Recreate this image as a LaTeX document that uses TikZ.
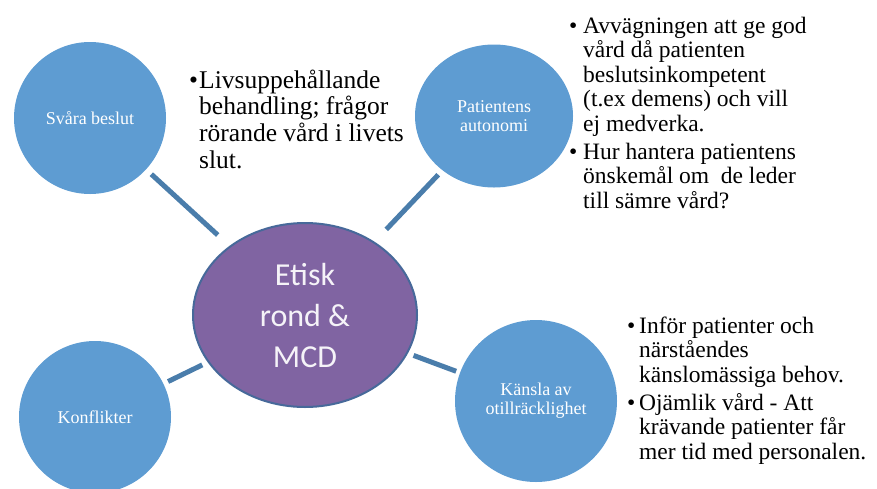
\documentclass[tikz,border=0pt]{standalone}
\usepackage{fontspec}
\setmainfont{Liberation Serif}
\newfontfamily\calfont{Carlito}
\usetikzlibrary{shapes.geometric}

\definecolor{bubbla}{HTML}{5E9CD2}
\definecolor{linje}{HTML}{4A7DAB}
\definecolor{lila}{HTML}{8064A2}
\definecolor{kant}{HTML}{47699A}

\newcommand\punkt[2][10pt]{\hangindent=#1\hangafter=1\noindent\makebox[#1][l]{\textbullet}#2\par}

\begin{document}
\begin{tikzpicture}[x=1pt,y=-1pt,
    bubble/.style={circle,fill=bubbla,inner sep=0pt,text=white,align=center,
      font=\rmfamily\fontsize{18}{19}\selectfont},
    arm/.style={draw=linje,line width=5pt},
    punkter/.style={anchor=base west,inner sep=0pt,text width=300pt,align=flush left}]
        \useasboundingbox (0,0) rectangle (877,488);

        \node[ellipse,draw=kant,line width=2pt,fill=lila,minimum width=224pt,minimum height=184pt,
          inner sep=0pt,align=center,text=white!92!lila,font=\calfont\fontsize{32}{41}\selectfont]
          (etisk) at (305,315) {Etisk\\rond \&\\MCD};

        \node[bubble,minimum size=152pt] (svara) at (90,118) {Svåra beslut};
        \node[bubble,ellipse,minimum width=158pt,minimum height=143pt] (patient) at (494,116) {Patientens\\autonomi};
        \node[bubble,minimum size=152pt] (konflikt) at (95,417) {Konflikter};
        \node[bubble,minimum size=162pt] (kansla) at (536,401) {Känsla av\\otillräcklighet};

        \draw[arm,shorten <=7pt,shorten >=16pt] (svara) -- (etisk);
        \draw[arm,shorten <=6pt,shorten >=17pt] (patient) -- (etisk);
        \draw[arm,shorten <=5pt,shorten >=6pt] (konflikt) -- (etisk);
        \draw[arm,shorten <=4pt,shorten >=6pt] (kansla) -- (etisk);

        \node[punkter,font=\fontsize{25.5}{26.7}\selectfont] (livs) at (189,88)
          {\punkt[10pt]{Livsuppehållande\newline behandling; frågor\newline rörande vård i livets\newline slut.}};

        \node[punkter,font=\fontsize{23.5}{24.5}\selectfont\setlength\parskip{3.5pt}] (avvag) at (569,33)
          {\punkt[14pt]{Avvägningen att ge god\newline vård då patienten\newline beslutsinkompetent\newline (t.ex demens) och vill\newline ej medverka.}
           \punkt[14pt]{Hur hantera patientens\newline önskemål om~ de leder\newline till sämre vård?}};

        \node[punkter,font=\fontsize{23.5}{24.5}\selectfont\setlength\parskip{3.5pt}] (infor) at (627,333)
          {\punkt[12pt]{Inför patienter och\newline närståendes\newline känslomässiga behov.}
           \punkt[12pt]{Ojämlik vård - Att\newline krävande patienter får\newline mer tid med personalen.}};

    \end{tikzpicture}
\end{document}
